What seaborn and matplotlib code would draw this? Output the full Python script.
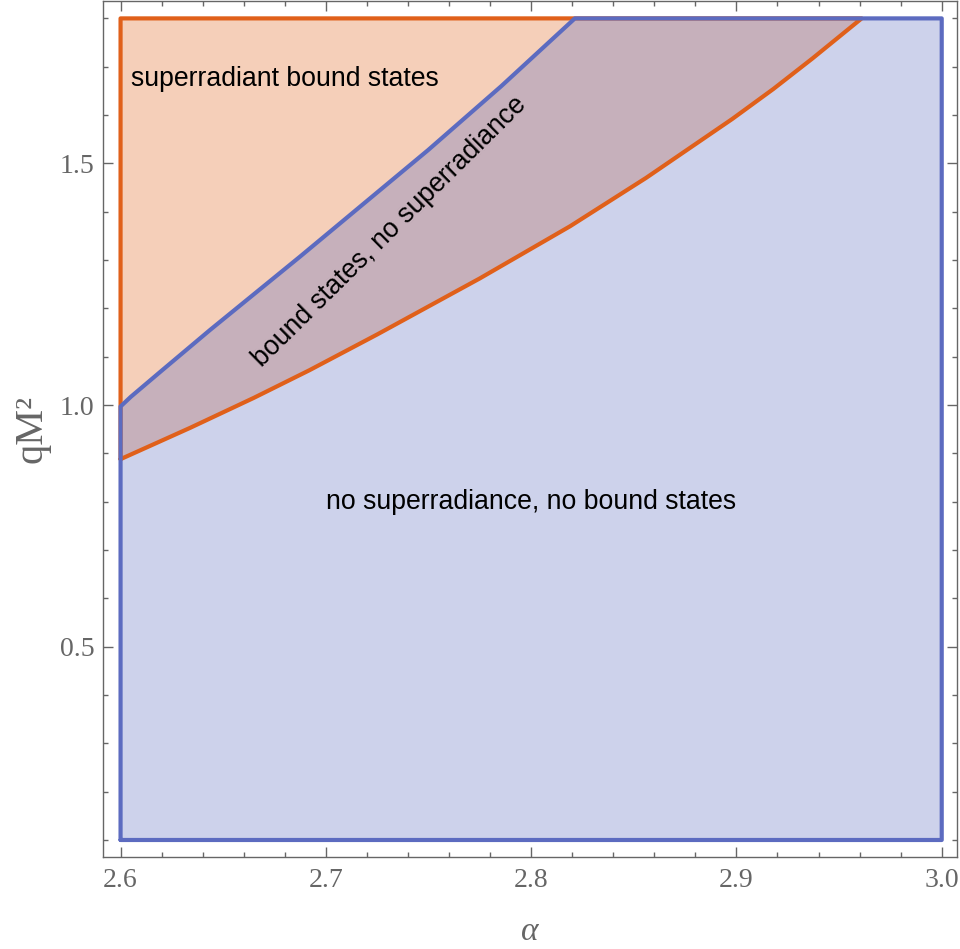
import numpy as np
import pandas as pd
import seaborn as sns
import matplotlib
matplotlib.use("Agg")
import matplotlib.pyplot as plt
from matplotlib.ticker import MultipleLocator

# ---- data ----
x_min, x_max = 2.6, 3.0
y_min, y_max = 0.1, 1.8

# blue boundary: bound states exist below this curve
bound_alpha = [2.600, 2.605, 2.620, 2.6435, 2.6874, 2.7498, 2.7855, 2.8213]
bound_q     = [0.997, 1.017, 1.071, 1.155, 1.307, 1.5275, 1.660, 1.800]

# orange boundary: superradiance above this curve
super_alpha = [2.600, 2.634, 2.665, 2.692, 2.725, 2.775, 2.819, 2.856, 2.898,
               2.918, 2.937, 2.961]
super_q     = [0.888, 0.953, 1.015, 1.072, 1.146, 1.262, 1.370, 1.470, 1.592,
               1.654, 1.717, 1.800]

region_labels = ["superradiant bound states",
                 "bound states, no superradiance",
                 "no superradiance, no bound states"]

blue = "#5C6BC0"
orange = "#E0601A"

sns.set_theme(style="ticks")
plt.rcParams["font.family"] = ["Liberation Sans", "DejaVu Sans"]

fig = plt.figure(figsize=(9.6, 9.49), dpi=100)
ax = fig.add_axes([102.9 / 960, 1 - 857 / 949, (956.5 - 102.9) / 960, 856 / 949])

# orange region polygon (superradiance)
o_x = [x_min] + super_alpha + [x_min, x_min]
o_y = [super_q[0]] + super_q + [y_max, super_q[0]]
# blue region polygon
b_x = [x_min, x_max, x_max] + bound_alpha[::-1] + [x_min]
b_y = [y_min, y_min, y_max] + bound_q[::-1] + [y_min]

ax.fill(o_x, o_y, color=orange, alpha=0.3, lw=0, zorder=1)
ax.fill(b_x, b_y, color=blue, alpha=0.3, lw=0, zorder=2)

df_o = pd.DataFrame({"alpha": o_x, "q": o_y})
df_b = pd.DataFrame({"alpha": b_x, "q": b_y})
sns.lineplot(data=df_o, x="alpha", y="q", sort=False, estimator=None,
             color=orange, lw=3.0, ax=ax, zorder=3, solid_joinstyle="round")
sns.lineplot(data=df_b, x="alpha", y="q", sort=False, estimator=None,
             color=blue, lw=3.0, ax=ax, zorder=4, solid_joinstyle="round")

ax.set_xlim(2.5914, 3.0072)
ax.set_ylim(0.0648, 1.836)

ax.xaxis.set_minor_locator(MultipleLocator(0.02))
ax.yaxis.set_minor_locator(MultipleLocator(0.1))
ax.set_xticks([2.6, 2.7, 2.8, 2.9, 3.0])
ax.set_xticklabels(["2.6", "2.7", "2.8", "2.9", "3.0"])
ax.set_yticks([0.5, 1.0, 1.5])
ax.set_yticklabels(["0.5", "1.0", "1.5"])

tick_col = "#666666"
ax.tick_params(which="both", direction="in", top=True, right=True,
               color=tick_col, width=1.0)
ax.tick_params(which="major", length=7.2)
ax.tick_params(which="minor", length=3.8)
ax.tick_params(axis="x", pad=8)
ax.tick_params(axis="y", pad=6)
for lab in ax.get_xticklabels() + ax.get_yticklabels():
    lab.set_fontfamily("Liberation Serif")
    lab.set_fontsize(20)
    lab.set_color(tick_col)
for sp in ax.spines.values():
    sp.set_color(tick_col)
    sp.set_linewidth(1.0)

ax.set_xlabel("α", fontfamily="Liberation Serif", style="italic",
              fontsize=24, color=tick_col, va="baseline")
ax.xaxis.set_label_coords(0.5, -(940 - 857) / 856)
ax.set_ylabel("qM²", fontfamily="Liberation Serif", fontsize=29,
              color=tick_col, va="baseline")
ax.yaxis.set_label_coords((42 - 102.9) / 853.6, 0.5)

ax.text(2.6049, 1.660, region_labels[0], fontsize=19.2, color="black",
        ha="left", va="baseline", zorder=5)
ax.text(2.7337, 1.3476, region_labels[1], fontsize=19.2, color="black",
        ha="center", va="baseline", rotation=44.6, rotation_mode="anchor", zorder=5)
ax.text(2.800, 0.785, region_labels[2], fontsize=19.2, color="black",
        ha="center", va="baseline", zorder=5)

fig.savefig("out.png", dpi=100)
